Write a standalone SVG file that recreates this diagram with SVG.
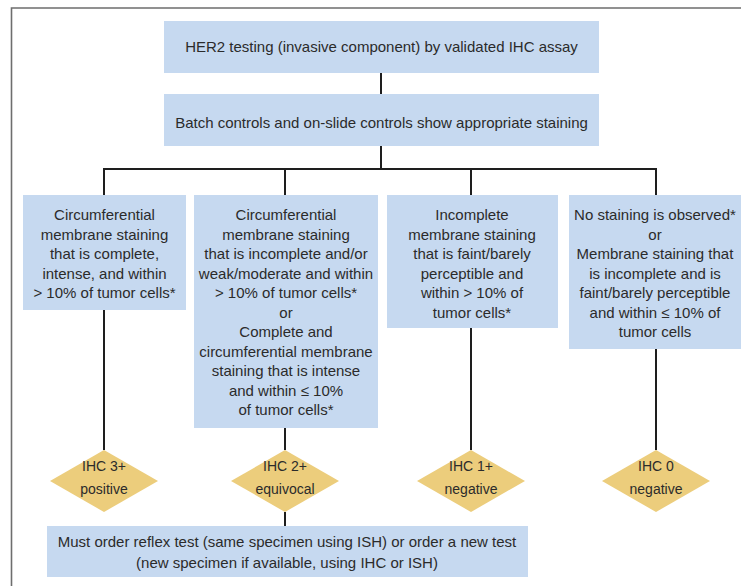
<svg xmlns="http://www.w3.org/2000/svg" width="741" height="586" viewBox="0 0 741 586">
  <style>
    .box { fill: #c6d9f0; }
    .dia { fill: #eccd7c; }
    .t { font-family: "Liberation Sans", Arial, sans-serif; font-size: 15px; fill: #2b2b2b; text-anchor: middle; }
    .d { font-family: "Liberation Sans", Arial, sans-serif; font-size: 14px; fill: #2b2b2b; text-anchor: middle; }
    .c { stroke: #1e1e1e; stroke-width: 2; fill: none; }
  </style>
  <rect width="741" height="586" fill="#ffffff"/>
  <path d="M11.5,586 V8 H741" fill="none" stroke="#6e6e6e" stroke-width="1.6"/>

  <g id="connectors">
    <path class="c" d="M381,73 V94"/>
    <path class="c" d="M381,146 V169"/>
    <path class="c" d="M104,169 H657"/>
    <path class="c" d="M104,168 V195"/>
    <path class="c" d="M285,168 V195"/>
    <path class="c" d="M471,168 V195"/>
    <path class="c" d="M656,168 V195"/>
    <path class="c" d="M104,310 V450"/>
    <path class="c" d="M285,428 V450"/>
    <path class="c" d="M471,328 V450"/>
    <path class="c" d="M656,349 V450"/>
    <path class="c" d="M285,512 V526"/>
  </g>

  <g id="n-her2">
    <rect class="box" x="164" y="21" width="435" height="52"/>
    <text class="t" x="381.5" y="52">HER2 testing (invasive component) by validated IHC assay</text>
  </g>
  <g id="n-controls">
    <rect class="box" x="164" y="94" width="435" height="52"/>
    <text class="t" x="381.5" y="128">Batch controls and on-slide controls show appropriate staining</text>
  </g>

  <g id="n-c3">
    <rect class="box" x="23" y="195" width="163" height="115"/>
    <text class="t" x="104.5" y="220">Circumferential</text>
    <text class="t" x="104.5" y="239.5">membrane staining</text>
    <text class="t" x="104.5" y="259">that is complete,</text>
    <text class="t" x="104.5" y="278.5">intense, and within</text>
    <text class="t" x="104.5" y="298">&gt; 10% of tumor cells*</text>
  </g>
  <g id="n-c2">
    <rect class="box" x="194" y="195" width="184" height="233"/>
    <text class="t" x="286" y="220">Circumferential</text>
    <text class="t" x="286" y="239.5">membrane staining</text>
    <text class="t" x="286" y="259">that is incomplete and/or</text>
    <text class="t" x="286" y="278.5">weak/moderate and within</text>
    <text class="t" x="286" y="298">&gt; 10% of tumor cells*</text>
    <text class="t" x="286" y="317.5">or</text>
    <text class="t" x="286" y="337">Complete and</text>
    <text class="t" x="286" y="356.5">circumferential membrane</text>
    <text class="t" x="286" y="376">staining that is intense</text>
    <text class="t" x="286" y="395.5">and within ≤ 10%</text>
    <text class="t" x="286" y="415">of tumor cells*</text>
  </g>
  <g id="n-c1">
    <rect class="box" x="387" y="195" width="171" height="133"/>
    <text class="t" x="472" y="220">Incomplete</text>
    <text class="t" x="472" y="239.5">membrane staining</text>
    <text class="t" x="472" y="259">that is faint/barely</text>
    <text class="t" x="472" y="278.5">perceptible and</text>
    <text class="t" x="472" y="298">within &gt; 10% of</text>
    <text class="t" x="472" y="317.5">tumor cells*</text>
  </g>
  <g id="n-c0">
    <rect class="box" x="569" y="195" width="176" height="154"/>
    <text class="t" x="655" y="220">No staining is observed*</text>
    <text class="t" x="655" y="239.5">or</text>
    <text class="t" x="655" y="259">Membrane staining that</text>
    <text class="t" x="655" y="278.5">is incomplete and is</text>
    <text class="t" x="655" y="298">faint/barely perceptible</text>
    <text class="t" x="655" y="317.5">and within ≤ 10% of</text>
    <text class="t" x="655" y="337">tumor cells</text>
  </g>

  <g id="d-3">
    <polygon class="dia" points="104,450 158,481 104,512 50,481"/>
    <text class="d" x="104" y="471">IHC 3+</text>
    <text class="d" x="104" y="494">positive</text>
  </g>
  <g id="d-2">
    <polygon class="dia" points="285,450 339,481 285,512 231,481"/>
    <text class="d" x="285" y="471">IHC 2+</text>
    <text class="d" x="285" y="494">equivocal</text>
  </g>
  <g id="d-1">
    <polygon class="dia" points="471,450 525,481 471,512 417,481"/>
    <text class="d" x="471" y="471">IHC 1+</text>
    <text class="d" x="471" y="494">negative</text>
  </g>
  <g id="d-0">
    <polygon class="dia" points="656,450 710,481 656,512 602,481"/>
    <text class="d" x="656" y="471">IHC 0</text>
    <text class="d" x="656" y="494">negative</text>
  </g>

  <g id="n-reflex">
    <rect class="box" x="47" y="526" width="481" height="51"/>
    <text class="t" x="287" y="547">Must order reflex test (same specimen using ISH) or order a new test</text>
    <text class="t" x="287" y="568">(new specimen if available, using IHC or ISH)</text>
  </g>
</svg>
